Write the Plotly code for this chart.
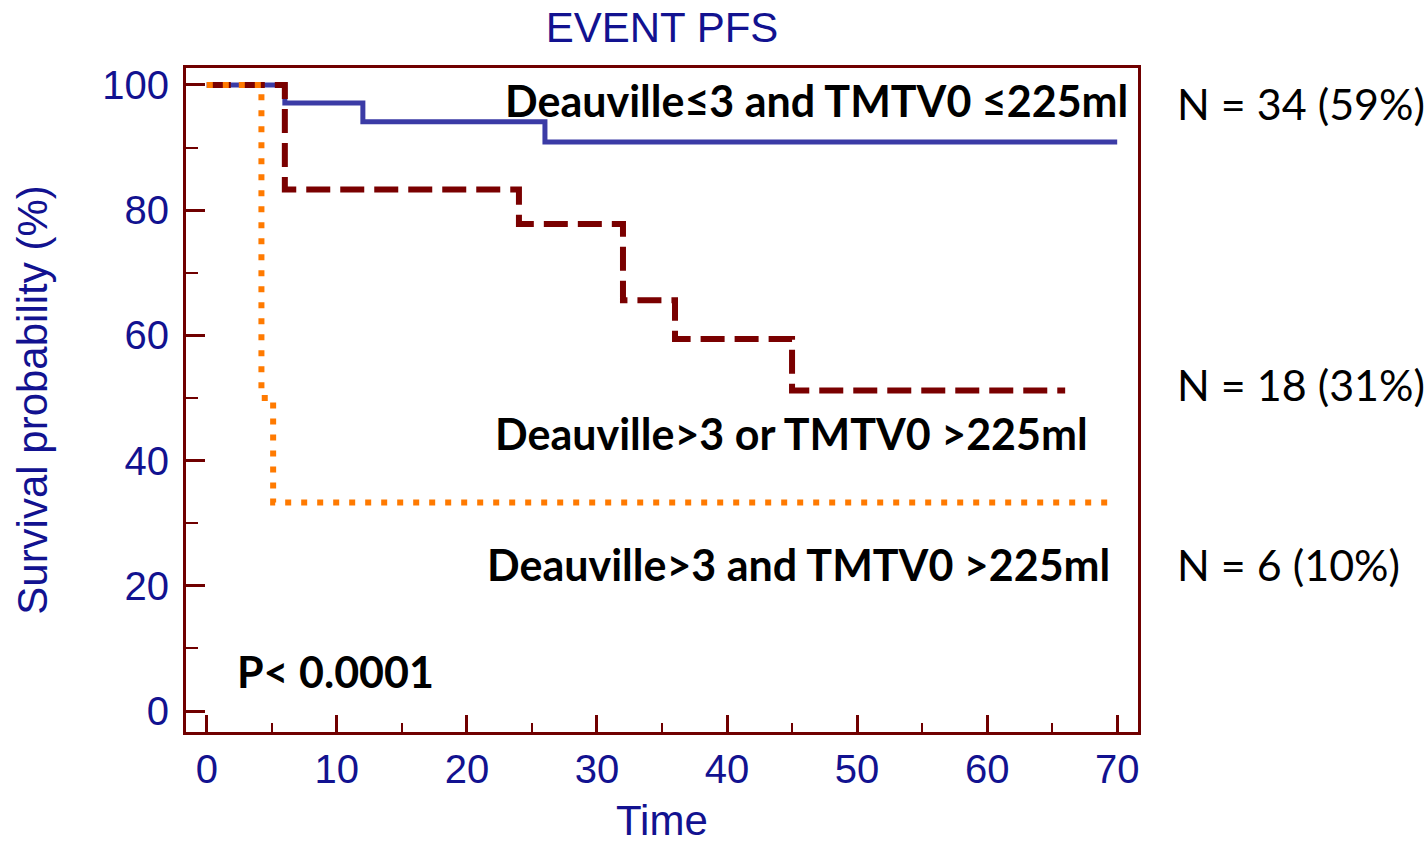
import plotly.graph_objects as go

# Kaplan-Meier step data (time, survival %)
t_low = [0, 6, 12, 26, 70]
s_low = [100, 97.1, 94.1, 90.9, 90.9]

t_mid = [0, 6, 24, 32, 36, 45, 66]
s_mid = [100, 83.3, 77.8, 65.6, 59.4, 51.2, 51.2]

t_high = [0, 4.2, 5.1, 70]
s_high = [100, 50.0, 33.3, 33.3]

labels = ["Deauville≤3 and TMTV0 ≤225ml",
          "Deauville>3 or TMTV0 >225ml",
          "Deauville>3 and TMTV0 >225ml"]
n_labels = ["N = 34 (59%)", "N = 18 (31%)", "N = 6 (10%)"]
p_text = "P< 0.0001"
x_title = "Time"
y_title = "Survival probability (%)"

FRAME = "#700000"
NAVY = "#121290"
AX_FONT = "Liberation Sans, Arial, sans-serif"
TXT_FONT = "Lato, Open Sans, sans-serif"

fig = go.Figure()
fig.add_trace(go.Scatter(x=t_low, y=s_low, mode="lines", line_shape="hv",
                         line=dict(color="#3b3ba6", width=5), showlegend=False))
fig.add_trace(go.Scatter(x=t_mid, y=s_mid, mode="lines", line_shape="hv",
                         line=dict(color="#7a0000", width=6, dash="24px,10px"),
                         showlegend=False))
fig.add_trace(go.Scatter(x=t_high, y=s_high, mode="lines", line_shape="hv",
                         line=dict(color="#ff7a00", width=6, dash="6px,10px"),
                         showlegend=False))

# group labels (bold) placed in data coords
lab_pos = [(71.0, 97.5), (67.9, 44.3), (69.6, 23.4)]
for txt, (x, y) in zip(labels, lab_pos):
    fig.add_annotation(x=x, y=y, xref="x", yref="y", text="<b>%s</b>" % txt,
                       showarrow=False, xanchor="right", yanchor="middle",
                       font=dict(family=TXT_FONT, size=43, color="black"))

n_y = [97.1, 52.2, 23.4]
for txt, y in zip(n_labels, n_y):
    fig.add_annotation(x=1.039, y=y, xref="paper", yref="y", text=txt,
                       showarrow=False, xanchor="left", yanchor="middle",
                       font=dict(family=TXT_FONT, size=43, color="black"))

fig.add_annotation(x=2.2, y=6.3, xref="x", yref="y", text="<b>%s</b>" % p_text,
                   showarrow=False, xanchor="left", yanchor="middle",
                   font=dict(family=TXT_FONT, size=43, color="black"))

# x axis title as annotation (placed below tick labels, kept inside the page)
fig.add_annotation(x=0.5, y=-0.171, xref="paper", yref="paper", text=x_title,
                   showarrow=False, xanchor="center", yanchor="bottom",
                   font=dict(family=AX_FONT, size=42, color=NAVY))

fig.update_layout(
    width=1427, height=847,
    margin=dict(l=186, r=289, t=68, b=115),
    paper_bgcolor="white", plot_bgcolor="white",
    title=dict(text="EVENT PFS", x=(186 + 1138) / 2 / 1427, xanchor="center",
               y=1 - 27 / 847, yanchor="middle",
               font=dict(family=AX_FONT, size=42, color=NAVY)),
)
fig.update_xaxes(range=[-1.6, 71.6], dtick=10, tick0=0, automargin=False,
                 showgrid=False, zeroline=False,
                 showline=True, mirror=True, linecolor=FRAME, linewidth=3,
                 ticks="inside", ticklen=17, tickwidth=3, tickcolor=FRAME,
                 minor=dict(dtick=5, ticks="inside", ticklen=9, tickwidth=2,
                            tickcolor=FRAME, showgrid=False),
                 tickfont=dict(family=AX_FONT, size=40, color=NAVY),
                 ticklabelstandoff=0)
fig.update_yaxes(range=[-3.35, 102.7], dtick=20, tick0=0, automargin=False,
                 showgrid=False, zeroline=False,
                 showline=True, mirror=True, linecolor=FRAME, linewidth=3,
                 ticks="inside", ticklen=19, tickwidth=3, tickcolor=FRAME,
                 minor=dict(dtick=10, ticks="inside", ticklen=12, tickwidth=2,
                            tickcolor=FRAME, showgrid=False),
                 tickfont=dict(family=AX_FONT, size=40, color=NAVY),
                 ticklabelstandoff=6,
                 title=dict(text=y_title, standoff=42,
                            font=dict(family=AX_FONT, size=42, color=NAVY)))

fig.write_html("out.html")
